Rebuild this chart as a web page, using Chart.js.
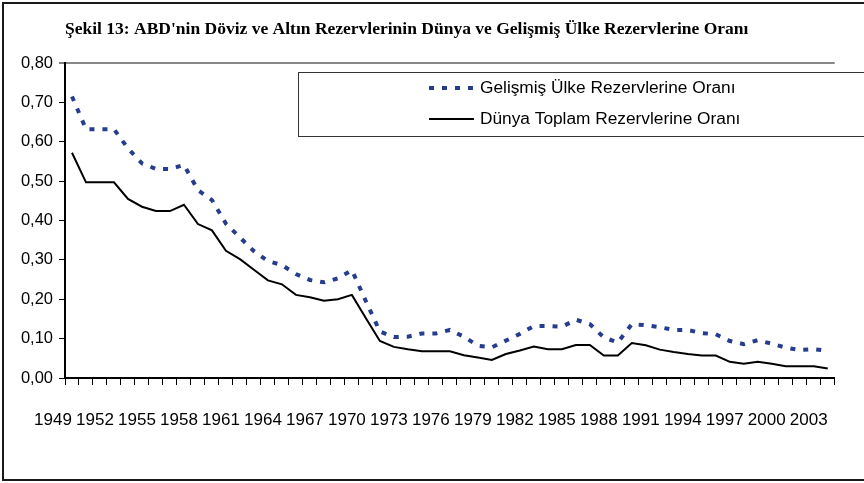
<!DOCTYPE html>
<html>
<head>
<meta charset="utf-8">
<script src="https://cdn.jsdelivr.net/npm/chart.js@4"></script>
<style>
  html, body { margin: 0; padding: 0; overflow: hidden; background: #fff; }
  #wrap { position: relative; width: 864px; height: 483px; overflow: hidden; }
  #frame { position: absolute; left: 2px; top: 2px; width: 900px; height: 475px; border: 2px solid #1a1a1a; pointer-events: none; }
  canvas { position: absolute; left: 0; top: 0; }
</style>
</head>
<body>
<div id="wrap">
  <canvas id="myChart" width="872" height="483"></canvas>
  <div id="frame"></div>
</div>
<script>
const years = ['1949','1950','1951','1952','1953','1954','1955','1956','1957','1958',
  '1959','1960','1961','1962','1963','1964','1965','1966','1967','1968',
  '1969','1970','1971','1972','1973','1974','1975','1976','1977','1978',
  '1979','1980','1981','1982','1983','1984','1985','1986','1987','1988',
  '1989','1990','1991','1992','1993','1994','1995','1996','1997','1998',
  '1999','2000','2001','2002','2003'];

const gelismis = [0.715, 0.632, 0.632, 0.632, 0.583, 0.545, 0.531, 0.531, 0.541, 0.477,
  0.452, 0.392, 0.357, 0.322, 0.297, 0.287, 0.264, 0.249, 0.243, 0.253,
  0.274, 0.195, 0.118, 0.104, 0.105, 0.113, 0.113, 0.122, 0.105, 0.082,
  0.078, 0.095, 0.112, 0.132, 0.132, 0.130, 0.148, 0.137, 0.103, 0.090,
  0.137, 0.134, 0.129, 0.122, 0.122, 0.114, 0.111, 0.094, 0.086, 0.096,
  0.087, 0.077, 0.071, 0.073, 0.069];

const dunya = [0.572, 0.497, 0.497, 0.497, 0.455, 0.435, 0.424, 0.424, 0.440, 0.391,
  0.375, 0.323, 0.302, 0.275, 0.248, 0.238, 0.211, 0.205, 0.196, 0.200,
  0.211, 0.152, 0.094, 0.079, 0.073, 0.068, 0.068, 0.068, 0.058, 0.052,
  0.046, 0.061, 0.070, 0.080, 0.073, 0.073, 0.084, 0.084, 0.057, 0.057,
  0.089, 0.083, 0.072, 0.066, 0.061, 0.057, 0.057, 0.041, 0.036, 0.041,
  0.036, 0.030, 0.030, 0.030, 0.024];

const labelStep = 3;
const blue = '#263c8f';

// excel style boxed legend inside the plot
const boxLegend = {
  id: 'boxLegend',
  afterDraw(chart) {
    const c = chart.ctx;
    c.save();
    c.fillStyle = '#fff';
    c.fillRect(298, 72, 580, 64);
    c.strokeStyle = '#333';
    c.lineWidth = 1;
    c.strokeRect(298.5, 72.5, 580, 64);
    c.font = '17.3px "Liberation Sans", Arial, sans-serif';
    c.textBaseline = 'middle';
    const rows = [88, 119];
    chart.data.datasets.forEach((ds, i) => {
      const y = rows[i];
      c.beginPath();
      c.strokeStyle = ds.borderColor;
      c.lineWidth = ds.borderWidth;
      c.setLineDash(ds.borderDash || []);
      c.moveTo(429, y);
      c.lineTo(474, y);
      c.stroke();
      c.setLineDash([]);
      c.fillStyle = '#000';
      c.fillText(ds.label, 480, y);
    });
    c.restore();
  }
};

new Chart(document.getElementById('myChart'), {
  type: 'line',
  data: {
    labels: years,
    datasets: [{
      label: 'Gelişmiş Ülke Rezervlerine Oranı',
      data: gelismis,
      borderColor: blue,
      borderWidth: 4,
      borderDash: [5, 8],
      pointRadius: 0,
      tension: 0,
      fill: false
    }, {
      label: 'Dünya Toplam Rezervlerine Oranı',
      data: dunya,
      borderColor: '#000',
      borderWidth: 2,
      pointRadius: 0,
      tension: 0,
      fill: false
    }]
  },
  options: {
    responsive: false,
    animation: false,
    layout: { padding: { left: 0, right: 6, top: 0, bottom: 0 } },
    plugins: {
      legend: { display: false },
      tooltip: { enabled: false },
      title: {
        display: true,
        text: "Şekil 13: ABD'nin Döviz ve Altın Rezervlerinin Dünya ve Gelişmiş Ülke Rezervlerine Oranı",
        align: 'start',
        fullSize: false,
        color: '#000',
        font: { family: '"Liberation Serif", "Times New Roman", serif', size: 17.5, weight: 'bold', lineHeight: 1.2 },
        padding: { top: 19, bottom: 23 }
      }
    },
    scales: {
      x: {
        offset: true,
        afterFit(scale) { scale.height = 105; },
        border: { color: '#000', width: 2 },
        grid: { display: true, drawOnChartArea: false, offset: true, tickLength: 7, color: '#000', tickWidth: 1 },
        ticks: {
          autoSkip: false,
          maxRotation: 0,
          minRotation: 0,
          labelOffset: -19,
          padding: 25,
          color: '#000',
          font: { family: '"Liberation Sans", Arial, sans-serif', size: 17 },
          callback: (v, i) => (i % labelStep === 0 ? years[i] : '')
        }
      },
      y: {
        min: 0,
        max: 0.8,
        afterFit(scale) { scale.width = 65; },
        border: { color: '#000', width: 2 },
        grid: {
          drawOnChartArea: true,
          drawTicks: true,
          tickLength: 6,
          tickColor: '#000',
          tickWidth: 1,
          color: ctx => (ctx.tick && Math.abs(ctx.tick.value - 0.8) < 1e-9 ? '#888' : 'rgba(0,0,0,0)'),
          lineWidth: ctx => (ctx.tick && Math.abs(ctx.tick.value - 0.8) < 1e-9 ? 2 : 1)
        },
        ticks: {
          stepSize: 0.1,
          padding: 6,
          color: '#000',
          font: { family: '"Liberation Sans", Arial, sans-serif', size: 16.5 },
          callback: v => v.toFixed(2).replace('.', ',')
        }
      }
    }
  },
  plugins: [boxLegend]
});
</script>
</body>
</html>
